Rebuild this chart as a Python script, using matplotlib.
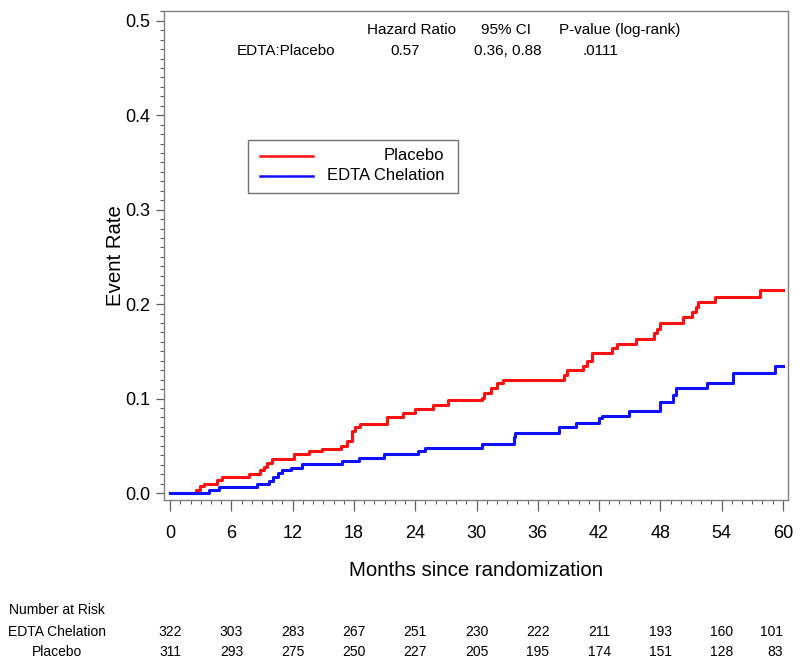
import matplotlib
matplotlib.use("Agg")
import matplotlib.pyplot as plt
from matplotlib.patches import Rectangle
from matplotlib.lines import Line2D
from matplotlib.ticker import MultipleLocator
import matplotlib.transforms as mtransforms

plt.rcParams['font.family'] = ['Liberation Sans', 'DejaVu Sans']

# Kaplan-Meier style cumulative event rate
placebo_t = [0, 2.5, 2.94, 3.27, 4.6, 5.1, 7.7, 8.8, 9.15, 9.5, 9.97, 12.1, 13.6,
             14.9, 16.7, 17.3, 17.8, 18.1, 18.6, 21.2, 22.8, 24.0, 25.7, 27.2,
             30.5, 30.7, 31.4, 32.0, 32.6, 38.6, 38.9, 40.4, 40.8, 41.3, 43.3,
             43.8, 45.6, 47.4, 47.7, 48.0, 50.2, 51.1, 51.5, 51.7, 53.4, 57.8, 60]
placebo_y = [0, .003, .007, .010, .014, .017, .020, .024, .028, .032, .036, .041,
             .044, .047, .050, .055, .066, .070, .073, .080, .085, .089, .093,
             .098, .101, .106, .111, .116, .120, .125, .130, .134, .140, .148,
             .153, .158, .163, .169, .174, .180, .186, .192, .197, .202, .208,
             .215, .215]

edta_t = [0, 3.76, 4.74, 8.5, 9.64, 10.1, 10.6, 10.95, 11.8, 12.9, 16.8, 18.5,
          20.9, 24.3, 25.0, 30.5, 33.7, 33.8, 38.1, 39.7, 42.0, 42.3, 44.9, 48.0,
          49.2, 49.5, 52.6, 55.1, 59.2, 60]
edta_y = [0, .003, .006, .0095, .013, .017, .021, .024, .027, .031, .034, .037,
          .041, .044, .048, .052, .059, .064, .070, .074, .079, .082, .087, .096,
          .104, .111, .116, .127, .134, .134]

# number at risk table
risk_months = [0, 6, 12, 18, 24, 30, 36, 42, 48, 54, 60]
risk_edta = [322, 303, 283, 267, 251, 230, 222, 211, 193, 160, 101]
risk_placebo = [311, 293, 275, 250, 227, 205, 195, 174, 151, 128, 83]

W, H = 800, 667
fig = plt.figure(figsize=(8, 6.67), dpi=100)
ax = fig.add_axes([164 / W, 1 - 500 / H, (788 - 164) / W, (500 - 11) / H])

red = '#ff1010'
blue = '#1010ff'
ax.step(placebo_t, placebo_y, where='post', color=red, lw=2.2)
ax.step(edta_t, edta_y, where='post', color=blue, lw=2.2)

ax.set_xlim(-0.6, 60.5)
ax.set_ylim(-0.0074, 0.5103)
ax.xaxis.set_major_locator(MultipleLocator(6))
ax.xaxis.set_minor_locator(MultipleLocator(1))
ax.yaxis.set_major_locator(MultipleLocator(0.1))
ax.yaxis.set_minor_locator(MultipleLocator(0.01))
ax.yaxis.set_major_formatter(matplotlib.ticker.FormatStrFormatter('%.1f'))

for s in ax.spines.values():
    s.set_color('#808080')
    s.set_linewidth(1.0)
ax.tick_params(which='major', length=6, width=0.9, color='#606060', labelsize=13)
ax.tick_params(which='minor', length=3, width=0.8, color='#606060')
ax.tick_params(axis='x', which='major', length=8, pad=10)
ax.tick_params(axis='y', pad=4)

ax.set_xlabel('Months since randomization', fontsize=14.7, labelpad=14)
ax.set_ylabel('Event Rate', fontsize=14.7, labelpad=0)

# hazard ratio table at top
def ftext(x, y, s, **kw):
    fig.text(x / W, 1 - y / H, s, ha='center', va='center', fontsize=11, **kw)

ftext(411, 30, 'Hazard Ratio')
ftext(506, 30, '95% CI')
ftext(620, 30, 'P-value (log-rank)')
ftext(286, 51, 'EDTA:Placebo')
ftext(405, 51, '0.57')
ftext(508, 51, '0.36, 0.88')
ftext(601, 51, '.0111')

# legend box with right-aligned labels
legbox = Rectangle((248 / W, 1 - 193 / H), (458 - 248) / W, (193 - 140) / H,
                   transform=fig.transFigure, fill=False, ec='#707070', lw=1.0)
fig.patches.append(legbox)
fig.lines.append(Line2D([260 / W, 313 / W], [1 - 156 / H] * 2,
                        transform=fig.transFigure, color=red, lw=1.8))
fig.lines.append(Line2D([260 / W, 313 / W], [1 - 176 / H] * 2,
                        transform=fig.transFigure, color=blue, lw=1.8))
fig.text(444 / W, 1 - 156 / H, 'Placebo', ha='right', va='center', fontsize=12)
fig.text(444 / W, 1 - 176 / H, 'EDTA Chelation', ha='right', va='center', fontsize=12)

# number at risk
trans = mtransforms.blended_transform_factory(ax.transData, fig.transFigure)
fig.text(57 / W, 1 - 610 / H, 'Number at Risk', ha='center', va='center', fontsize=10)
fig.text(57 / W, 1 - 632 / H, 'EDTA Chelation', ha='center', va='center', fontsize=10)
fig.text(57 / W, 1 - 652 / H, 'Placebo', ha='center', va='center', fontsize=10)
for i, (m, a, b) in enumerate(zip(risk_months, risk_edta, risk_placebo)):
    ha = 'right' if i == len(risk_months) - 1 else 'center'
    ax.text(m, 1 - 632 / H, str(a), transform=trans, ha=ha, va='center',
            fontsize=10, clip_on=False)
    ax.text(m, 1 - 652 / H, str(b), transform=trans, ha=ha, va='center',
            fontsize=10, clip_on=False)

fig.savefig('out.png', dpi=100)
